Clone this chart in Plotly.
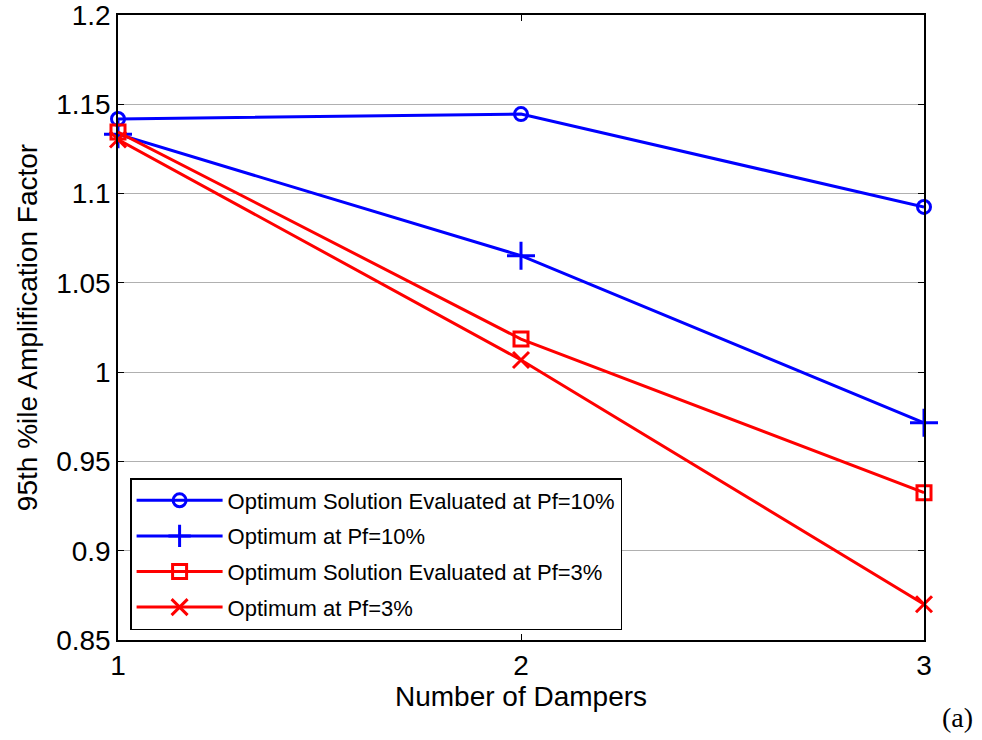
import plotly.graph_objects as go

dampers = [1, 2, 3]
opt_sol_pf10 = [1.1418, 1.1445, 1.0925]
opt_pf10 = [1.1332, 1.0652, 0.9716]
opt_sol_pf3 = [1.1345, 1.0185, 0.9325]
opt_pf3 = [1.1303, 1.0068, 0.8700]

names = ["Optimum Solution Evaluated at Pf=10%", "Optimum at Pf=10%",
         "Optimum Solution Evaluated at Pf=3%", "Optimum at Pf=3%"]
series = [opt_sol_pf10, opt_pf10, opt_sol_pf3, opt_pf3]
colors = ["#0000FF", "#0000FF", "#FF0000", "#FF0000"]
symbols = ["circle-open", "cross-thin-open", "square-open", "x-thin-open"]
sizes = [13, 20, 14, 16]

FONT = "Arial, Liberation Sans"

fig = go.Figure()
for i, (n, s, c, sym, sz) in enumerate(zip(names, series, colors, symbols, sizes)):
    fig.add_trace(go.Scatter(
        x=dampers, y=s, name=n, mode="lines+markers", legendgroup=f"g{i}",
        line=dict(color=c, width=3),
        marker=dict(symbol=sym, size=sz, color=c, line=dict(color=c, width=3)),
        cliponaxis=False,
    ))

axis_common = dict(
    showline=True, linecolor="black", linewidth=1.5, mirror="ticks",
    ticks="inside", ticklen=6, tickcolor="black", automargin=False,
    tickfont=dict(family=FONT, size=28, color="black"),
    ticklabeloverflow="allow",
    zeroline=False,
)
fig.update_xaxes(range=[1, 3], tickvals=[1, 2, 3], showgrid=False,
                 title=dict(text="Number of Dampers", font=dict(family=FONT, size=28, color="black"), standoff=6),
                 **axis_common)
fig.update_yaxes(range=[0.85, 1.2], tickvals=[0.85, 0.9, 0.95, 1.0, 1.05, 1.1, 1.15, 1.2],
                 ticktext=["0.85", "0.9", "0.95", "1", "1.05", "1.1", "1.15", "1.2"],
                 showgrid=True, gridcolor="#B0B0B0", gridwidth=1,
                 title=dict(text="95th %ile Amplification Factor", font=dict(family=FONT, size=28, color="black"), standoff=10),
                 **axis_common)

fig.update_layout(
    width=982, height=740,
    margin=dict(l=118, r=58, t=15, b=100),
    paper_bgcolor="white", plot_bgcolor="white",
    showlegend=True,
    legend=dict(x=0.015, y=0.016, xanchor="left", yanchor="bottom",
                bgcolor="white", bordercolor="black", borderwidth=1.5,
                font=dict(family=FONT, size=22, color="black"),
                itemwidth=86, tracegroupgap=4),
    annotations=[dict(text="(a)", x=1.0, y=0.0, xref="paper", yref="paper",
                      xanchor="left", yanchor="top", xshift=16, yshift=-60,
                      showarrow=False,
                      font=dict(family="Times New Roman, Liberation Serif", size=28, color="black"))],
)

fig.write_html("out.html")
